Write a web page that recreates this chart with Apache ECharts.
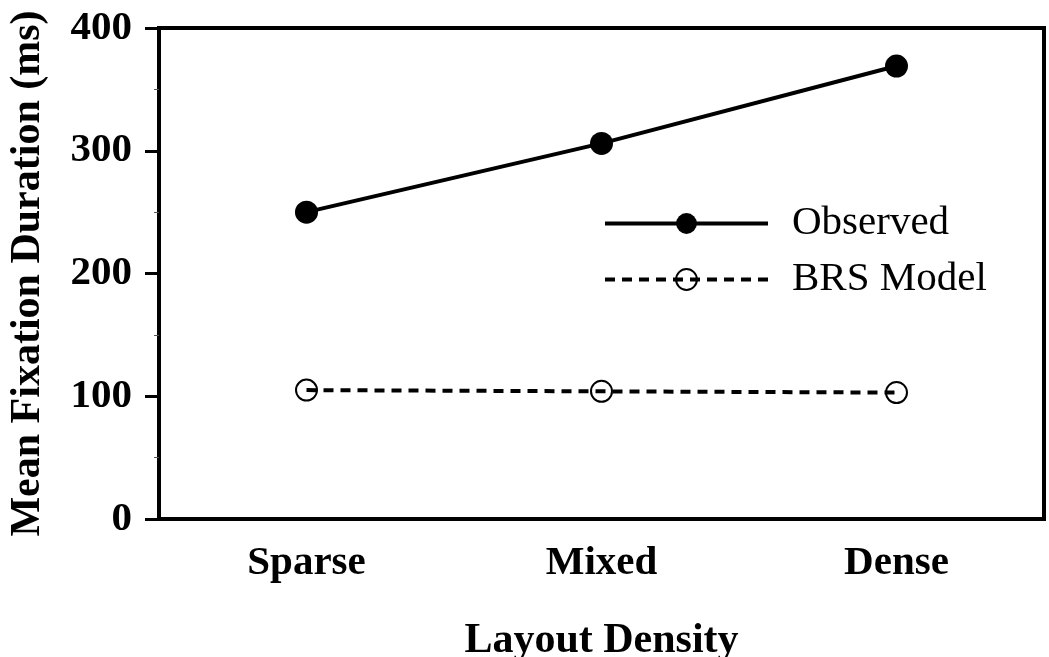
<!DOCTYPE html>
<html>
<head>
<meta charset="utf-8">
<script src="https://cdn.jsdelivr.net/npm/echarts@6/dist/echarts.min.js"></script>
<style>
  html, body { margin: 0; padding: 0; background: #fff; }
  #chart { width: 1049px; height: 657px; }
</style>
</head>
<body>
<div id="chart"></div>
<script>
// values
const categories = ["Sparse", "Mixed", "Dense"];
const observed = [250, 306, 369];
const brsModel = [105, 104, 103];
const yTicks = { min: 0, max: 400, interval: 100 };

const font = "Liberation Serif";

const chart = echarts.init(document.getElementById("chart"));

const option = {
  backgroundColor: "#fff",
  animation: false,
  grid: {
    left: 159,
    right: 5,
    top: 28,
    bottom: 138,
    outerBoundsMode: "none",
    show: true,
    borderColor: "#000",
    borderWidth: 4
  },
  legend: {
    orient: "vertical",
    left: 598,
    top: 198,
    itemWidth: 163,
    itemHeight: 26,
    itemGap: 15,
    lineStyle: { width: 4 },
    textStyle: {
      fontFamily: font,
      fontSize: 41,
      color: "#000",
      padding: [0, 0, 0, 19]
    },
    data: ["Observed", "BRS Model"]
  },
  xAxis: {
    type: "category",
    data: categories,
    boundaryGap: true,
    name: "Layout Density",
    nameLocation: "middle",
    nameGap: 101,
    nameTextStyle: {
      fontFamily: font,
      fontWeight: "bold",
      fontSize: 42,
      color: "#000"
    },
    axisLine: { lineStyle: { color: "#000", width: 4 } },
    axisTick: {
      alignWithLabel: true,
      inside: false,
      length: 15,
      lineStyle: { color: "#000", width: 3 }
    },
    axisLabel: {
      margin: 24,
      fontFamily: font,
      fontWeight: "bold",
      fontSize: 41,
      color: "#000"
    },
    splitLine: { show: false }
  },
  yAxis: {
    type: "value",
    min: yTicks.min,
    max: yTicks.max,
    interval: yTicks.interval,
    name: "Mean Fixation Duration (ms)",
    nameLocation: "middle",
    nameGap: 110,
    nameTextStyle: {
      fontFamily: font,
      fontWeight: "bold",
      fontSize: 42,
      color: "#000"
    },
    axisLine: { show: true, lineStyle: { color: "#000", width: 4 } },
    axisTick: {
      show: true,
      length: 14,
      lineStyle: { color: "#000", width: 3 }
    },
    minorTick: {
      show: true,
      splitNumber: 2,
      length: 5,
      lineStyle: { color: "#555", width: 1 }
    },
    axisLabel: {
      margin: 27,
      fontFamily: font,
      fontWeight: "bold",
      fontSize: 41,
      color: "#000"
    },
    splitLine: { show: false }
  },
  series: [
    {
      name: "Observed",
      type: "line",
      data: observed,
      symbol: "circle",
      symbolSize: 23,
      lineStyle: { color: "#000", width: 4 },
      itemStyle: { color: "#000" }
    },
    {
      name: "BRS Model",
      type: "line",
      data: brsModel,
      symbol: "circle",
      symbolSize: 21,
      lineStyle: { color: "#000", width: 4, type: [10, 7] },
      itemStyle: {
        color: "rgba(255,255,255,0)",
        borderColor: "#000",
        borderWidth: 2
      }
    }
  ]
};

chart.setOption(option);
</script>
</body>
</html>
